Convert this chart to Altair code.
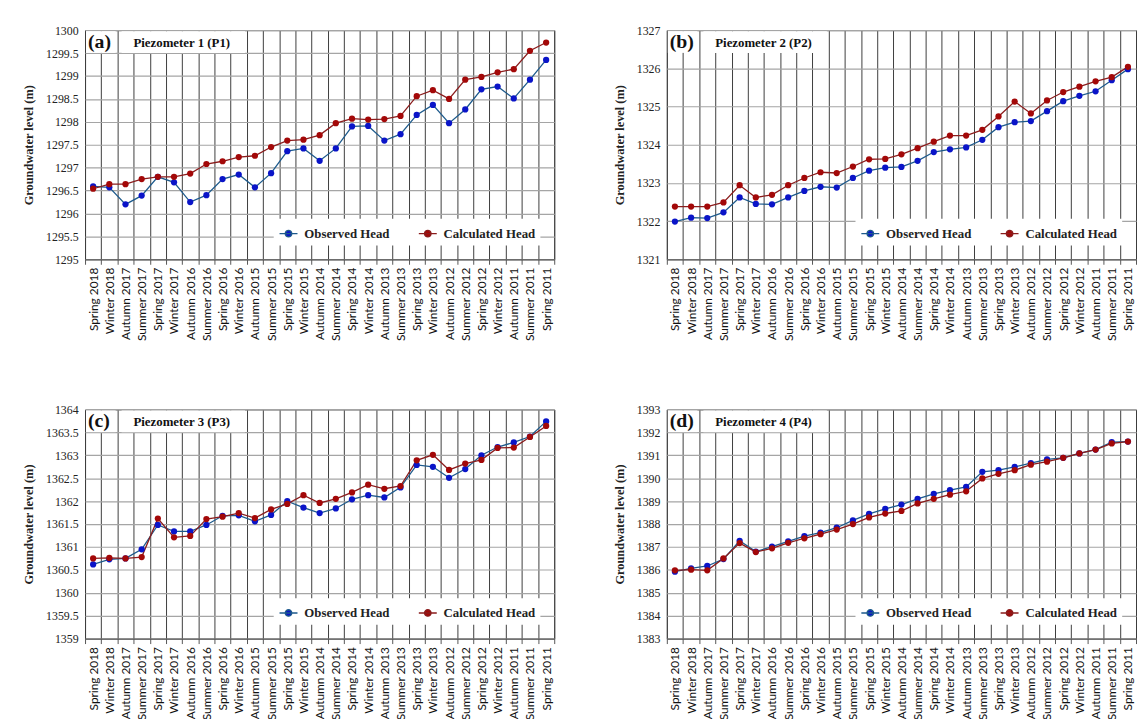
import altair as alt
import pandas as pd

seasons = [
    "Spring 2018", "Winter 2018", "Autumn 2017", "Summer 2017", "Spring 2017",
    "Winter 2017", "Autumn 2016", "Summer 2016", "Spring 2016", "Winter 2016",
    "Autumn 2015", "Summer 2015", "Spring 2015", "Winter 2015", "Autumn 2014",
    "Summer 2014", "Spring 2014", "Winter 2014", "Autumn 2013", "Summer 2013",
    "Spring 2013", "Winter 2013", "Autumn 2012", "Summer 2012", "Spring 2012",
    "Winter 2012", "Autumn 2011", "Summer 2011", "Spring 2011",
]
series_names = ["Observed Head", "Calculated Head"]

p1_obs = [1296.59, 1296.57, 1296.20, 1296.39, 1296.80, 1296.68, 1296.25, 1296.40, 1296.75, 1296.85,
          1296.57, 1296.88, 1297.36, 1297.42, 1297.15, 1297.42, 1297.90, 1297.91, 1297.59, 1297.73,
          1298.15, 1298.37, 1297.97, 1298.27, 1298.71, 1298.77, 1298.51, 1298.92, 1299.35]
p1_calc = [1296.54, 1296.64, 1296.64, 1296.75, 1296.80, 1296.80, 1296.87, 1297.08, 1297.14, 1297.23,
           1297.26, 1297.45, 1297.59, 1297.61, 1297.71, 1297.97, 1298.07, 1298.05, 1298.06, 1298.13,
           1298.56, 1298.69, 1298.50, 1298.92, 1298.98, 1299.08, 1299.15, 1299.55, 1299.73]

p2_obs = [1321.99, 1322.09, 1322.08, 1322.23, 1322.62, 1322.45, 1322.44, 1322.62, 1322.79, 1322.90,
          1322.88, 1323.13, 1323.32, 1323.40, 1323.42, 1323.58, 1323.81, 1323.88, 1323.93, 1324.13,
          1324.46, 1324.59, 1324.62, 1324.88, 1325.14, 1325.28, 1325.40, 1325.69, 1325.98]
p2_calc = [1322.38, 1322.38, 1322.38, 1322.49, 1322.94, 1322.62, 1322.69, 1322.94, 1323.13, 1323.28,
           1323.26, 1323.43, 1323.62, 1323.63, 1323.75, 1323.91, 1324.08, 1324.24, 1324.24, 1324.39,
           1324.74, 1325.13, 1324.82, 1325.16, 1325.38, 1325.52, 1325.66, 1325.77, 1326.04]

p3_obs = [1360.62, 1360.73, 1360.75, 1360.95, 1361.48, 1361.34, 1361.34, 1361.48, 1361.68, 1361.69,
          1361.56, 1361.70, 1362.00, 1361.86, 1361.74, 1361.84, 1362.04, 1362.13, 1362.08, 1362.30,
          1362.79, 1362.75, 1362.51, 1362.70, 1363.00, 1363.18, 1363.28, 1363.41, 1363.74]
p3_calc = [1360.75, 1360.76, 1360.75, 1360.78, 1361.62, 1361.21, 1361.24, 1361.61, 1361.66, 1361.74,
           1361.63, 1361.82, 1361.94, 1362.13, 1361.96, 1362.05, 1362.19, 1362.36, 1362.27, 1362.33,
           1362.89, 1363.01, 1362.68, 1362.82, 1362.90, 1363.16, 1363.17, 1363.40, 1363.64]

p4_obs = [1385.92, 1386.07, 1386.17, 1386.47, 1387.27, 1386.80, 1387.01, 1387.24, 1387.47, 1387.63,
          1387.84, 1388.16, 1388.44, 1388.66, 1388.85, 1389.10, 1389.32, 1389.48, 1389.62, 1390.28,
          1390.35, 1390.49, 1390.66, 1390.82, 1390.89, 1391.08, 1391.25, 1391.57, 1391.60]
p4_calc = [1385.98, 1386.01, 1385.98, 1386.50, 1387.17, 1386.78, 1386.94, 1387.18, 1387.38, 1387.56,
           1387.76, 1388.00, 1388.29, 1388.46, 1388.57, 1388.90, 1389.10, 1389.28, 1389.43, 1389.99,
           1390.19, 1390.35, 1390.59, 1390.72, 1390.89, 1391.08, 1391.25, 1391.52, 1391.60]

p1_ticks = [1295, 1295.5, 1296, 1296.5, 1297, 1297.5, 1298, 1298.5, 1299, 1299.5, 1300]
p2_ticks = [1321, 1322, 1323, 1324, 1325, 1326, 1327]
p3_ticks = [1359, 1359.5, 1360, 1360.5, 1361, 1361.5, 1362, 1362.5, 1363, 1363.5, 1364]
p4_ticks = [1383, 1384, 1385, 1386, 1387, 1388, 1389, 1390, 1391, 1392, 1393]

letters = ["(a)", "(b)", "(c)", "(d)"]
titles = ["Piezometer 1 (P1)", "Piezometer 2 (P2)", "Piezometer 3 (P3)", "Piezometer 4 (P4)"]

LINE_COLORS = ["#1d5a8c", "#8a1c1c"]
POINT_COLORS = ["#0a14c8", "#a30808"]
SERIF = "Liberation Serif"
SANS = "Lato"
LEG_SYMBOL = "M-1,0H1M-0.36,0A0.36,0.36,0,1,0,0.36,0A0.36,0.36,0,1,0,-0.36,0Z"

W, H = 475, 232


def panel(obs, calc, ticks, letter, title):
    df = pd.DataFrame({
        "season": seasons * 2,
        "series": [series_names[0]] * len(seasons) + [series_names[1]] * len(seasons),
        "value": obs + calc,
    })
    x = alt.X(
        "season:N", sort=seasons, bandPosition=0.5,
        scale=alt.Scale(type="band", paddingInner=0, paddingOuter=0),
        axis=alt.Axis(
            title=None, labelAngle=270, tickBand="extent", grid=True,
            gridColor="#3c3c3c", gridWidth=1, tickColor="#555", tickSize=5,
            domainColor="#555", labelFont=SANS, labelFontSize=12,
            labelColor="#111", labelPadding=3,
        ),
    )
    y = alt.Y(
        "value:Q",
        scale=alt.Scale(domain=[ticks[0], ticks[-1]], nice=False, zero=False),
        axis=alt.Axis(
            values=ticks, format="~g", title="Groundwater level (m)",
            titleFont=SERIF, titleFontWeight="bold", titleFontSize=12.5,
            titleColor="#222", titlePadding=10, labelFont=SERIF,
            labelFontSize=12, labelColor="#222", labelPadding=7,
            ticks=False, domain=False, gridColor="#a5a5a5", gridWidth=1.2,
        ),
    )
    legend = alt.Legend(
        title=None, orient="bottom-right", direction="horizontal",
        fillColor="white", padding=5, offset=14,
        labelFont=SERIF, labelFontWeight="bold", labelFontSize=13,
        labelColor="#222", symbolType=LEG_SYMBOL, symbolSize=330,
        symbolStrokeWidth=1.4, columnPadding=26, labelOffset=6,
    )
    base = alt.Chart(df)
    lines = base.mark_line(strokeWidth=1.3).encode(
        x=x, y=y,
        stroke=alt.Stroke("series:N", sort=series_names,
                          scale=alt.Scale(domain=series_names, range=LINE_COLORS),
                          legend=legend),
    )
    points = base.mark_point(filled=True, size=40, opacity=1).encode(
        x=x, y=y,
        fill=alt.Fill("series:N", sort=series_names,
                      scale=alt.Scale(domain=series_names, range=POINT_COLORS),
                      legend=legend),
    )
    lab = alt.Chart(pd.DataFrame({"letter": [letter], "title": [title]}))
    box1 = lab.mark_rect(fill="white").encode(
        x=alt.value(1), x2=alt.value(31), y=alt.value(1), y2=alt.value(23))
    box2 = lab.mark_rect(fill="white").encode(
        x=alt.value(37), x2=alt.value(162), y=alt.value(1), y2=alt.value(23))
    t1 = lab.mark_text(font=SERIF, fontWeight="bold", fontSize=20, align="left",
                       baseline="middle", color="#111").encode(
        x=alt.value(3), y=alt.value(12), text="letter:N")
    t2 = lab.mark_text(font=SERIF, fontWeight="bold", fontSize=13, align="left",
                       baseline="middle", color="#111").encode(
        x=alt.value(49), y=alt.value(13), text="title:N")
    return alt.layer(lines, points, box1, box2, t1, t2).properties(width=W, height=H)


pa = panel(p1_obs, p1_calc, p1_ticks, letters[0], titles[0])
pb = panel(p2_obs, p2_calc, p2_ticks, letters[1], titles[1])
pc = panel(p3_obs, p3_calc, p3_ticks, letters[2], titles[2])
pd_ = panel(p4_obs, p4_calc, p4_ticks, letters[3], titles[3])

row1 = alt.hconcat(pa, pb, spacing=58).resolve_scale(
    stroke="independent", fill="independent")
row2 = alt.hconcat(pc, pd_, spacing=58).resolve_scale(
    stroke="independent", fill="independent")

chart = alt.vconcat(row1, row2, spacing=62).resolve_scale(
    stroke="independent", fill="independent"
).properties(
    padding={"left": 14, "top": 11, "right": 0, "bottom": 0},
    background="white",
).configure_view(stroke="#555", fill="white")

chart.save("out.html", embed_options={"renderer": "svg", "actions": False})
